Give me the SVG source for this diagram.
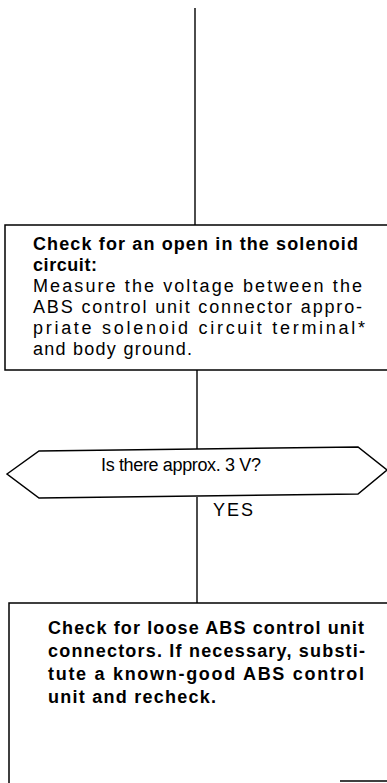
<svg xmlns="http://www.w3.org/2000/svg" width="387" height="783" viewBox="0 0 387 783">
<style>
.ln{stroke:#000;stroke-width:1.4;fill:none}
.bx{stroke:#000;stroke-width:1.5;fill:#fff}
.t{font-family:"Liberation Sans",Arial,sans-serif;font-size:18px;fill:#000}
.b{font-weight:bold}
</style>
<rect width="387" height="783" fill="#fff"/>
<g id="connectors">
<line class="ln" x1="195" y1="8" x2="195" y2="225"/>
<line class="ln" x1="197" y1="370" x2="197" y2="449"/>
<line class="ln" x1="197" y1="497" x2="197" y2="603"/>
</g>
<g id="box1">
<rect class="bx" x="5" y="225" width="392" height="145"/>
<text class="t b" x="33" y="250" textLength="325" lengthAdjust="spacing">Check for an open in the solenoid</text>
<text class="t b" x="33" y="271" textLength="64" lengthAdjust="spacing">circuit:</text>
<text class="t" x="33" y="292" textLength="329" lengthAdjust="spacing">Measure the voltage between the</text>
<text class="t" x="33" y="313" textLength="329" lengthAdjust="spacing">ABS control unit connector appro-</text>
<text class="t" x="33" y="334" textLength="332" lengthAdjust="spacing">priate solenoid circuit terminal*</text>
<text class="t" x="33" y="355" textLength="159" lengthAdjust="spacing">and body ground.</text>
</g>
<g id="decision">
<polygon class="bx" points="7,474 39,451 358,447 387,470 358,494 39,498"/>
<text class="t" x="101" y="471" textLength="160" lengthAdjust="spacing">Is there approx. 3 V?</text>
</g>
<text id="yes" class="t" x="213" y="516" textLength="40" lengthAdjust="spacing">YES</text>
<g id="box2">
<rect class="bx" x="9" y="603" width="390" height="190"/>
<line class="ln" x1="340" y1="781" x2="387" y2="781"/>
<text class="t b" x="48" y="634" textLength="316" lengthAdjust="spacing">Check for loose ABS control unit</text>
<text class="t b" x="48" y="657" textLength="317" lengthAdjust="spacing">connectors. If necessary, substi-</text>
<text class="t b" x="48" y="680" textLength="316" lengthAdjust="spacing">tute a known-good ABS control</text>
<text class="t b" x="48" y="703" textLength="168" lengthAdjust="spacing">unit and recheck.</text>
</g>
</svg>
